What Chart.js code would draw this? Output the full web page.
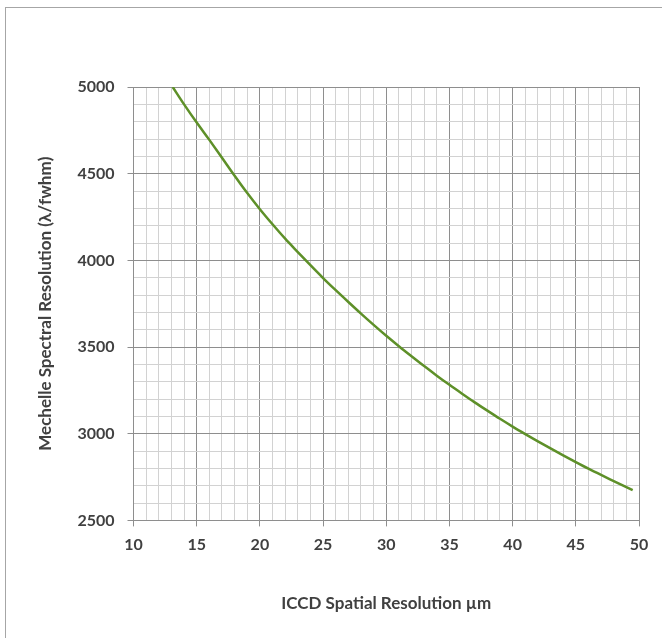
<!DOCTYPE html>
<html>
<head>
<meta charset="utf-8">
<title>Mechelle Spectral Resolution vs ICCD Spatial Resolution</title>
<script src="https://cdn.jsdelivr.net/npm/chart.js@4.4.1/dist/chart.umd.min.js"></script>
<style>
    html, body { margin: 0; padding: 0; background: #ffffff; }
    #wrap { position: relative; width: 662px; height: 638px; overflow: hidden; }
    #frame {
        position: absolute; left: 5px; top: 7px; width: 720px; height: 720px;
        border: 1px solid #a6a6a6; box-sizing: border-box;
    }
    #chart { position: absolute; left: 0; top: 0; display: block; }
</style>
</head>
<body>
<div id="wrap">
    <div id="frame"></div>
    <canvas id="chart" width="662" height="638"></canvas>
</div>
<script>
// ICCD spatial resolution (um) and the Mechelle resolving power
const spatialRes = [13.1, 14, 15, 16, 17, 18, 19, 20, 21, 22, 23, 24, 25, 26, 27, 28, 29, 30,
    31, 32, 33, 34, 35, 36, 37, 38, 39, 40, 41, 42, 43, 44, 45, 46, 47, 48, 49, 49.5];
const spectralRes = [5000, 4900, 4795, 4695, 4592, 4488, 4388, 4295, 4208, 4125, 4048, 3972, 3898, 3828, 3760, 3693, 3628, 3565,
    3505, 3447, 3390, 3335, 3282, 3231, 3181, 3133, 3086, 3041, 2998, 2956, 2915, 2875, 2836, 2798, 2762, 2727, 2692, 2675];

const xTicks = [10, 15, 20, 25, 30, 35, 40, 45, 50];
const yTicks = [2500, 3000, 3500, 4000, 4500, 5000];

const majorGrid = '#8e8e8e';
const minorGrid = '#d2d2d2';

Chart.defaults.font.family = 'Lato, "Open Sans", sans-serif';
Chart.defaults.color = '#404040';

const points = spatialRes.map((x, i) => ({ x: x, y: spectralRes[i] }));

const ctx = document.getElementById('chart').getContext('2d');
new Chart(ctx, {
    type: 'line',
    data: {
        datasets: [{
            data: points,
            borderColor: '#5e9029',
            borderWidth: 2.5,
            pointRadius: 0,
            fill: false,
            cubicInterpolationMode: 'monotone'
        }]
    },
    options: {
        responsive: false,
        animation: false,
        layout: { padding: { left: 20, top: 87, right: 23, bottom: 20 } },
        plugins: {
            legend: { display: false },
            tooltip: { enabled: false }
        },
        scales: {
            x: {
                type: 'linear',
                min: 10,
                max: 50,
                border: { display: true, color: majorGrid, width: 1 },
                grid: {
                    color: c => xTicks.includes(c.tick.value) ? majorGrid : minorGrid,
                    tickColor: c => xTicks.includes(c.tick.value) ? majorGrid : 'rgba(0,0,0,0)',
                    tickLength: 6
                },
                ticks: {
                    stepSize: 1,
                    autoSkip: false,
                    maxRotation: 0,
                    padding: 9,
                    font: { size: 16, weight: 'bold' },
                    callback: v => xTicks.includes(v) ? String(v) : ''
                },
                title: {
                    display: true,
                    text: 'ICCD Spatial Resolution µm',
                    font: { size: 17, weight: 'bold' },
                    padding: { top: 30, bottom: 4 }
                }
            },
            y: {
                type: 'linear',
                min: 2500,
                max: 5000,
                border: { display: true, color: majorGrid, width: 1 },
                grid: {
                    color: c => yTicks.includes(c.tick.value) ? majorGrid : minorGrid,
                    tickColor: c => yTicks.includes(c.tick.value) ? majorGrid : 'rgba(0,0,0,0)',
                    tickLength: 6
                },
                ticks: {
                    stepSize: 100,
                    autoSkip: false,
                    padding: 13,
                    font: { size: 16, weight: 'bold' },
                    callback: v => yTicks.includes(v) ? String(v) : ''
                },
                title: {
                    display: true,
                    text: 'Mechelle Spectral Resolution (λ/fwhm)',
                    font: { size: 17, weight: 'bold' },
                    padding: { top: 15, bottom: 9 }
                }
            }
        }
    }
});
</script>
</body>
</html>
